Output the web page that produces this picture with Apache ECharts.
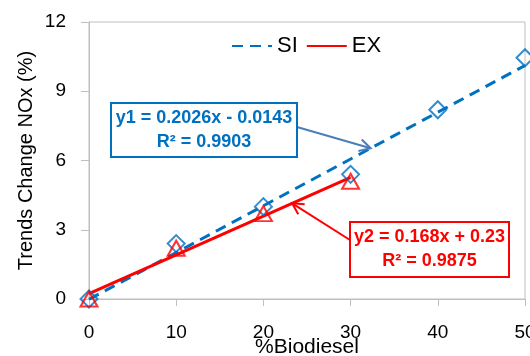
<!DOCTYPE html>
<html>
<head>
<meta charset="utf-8">
<script src="https://cdn.jsdelivr.net/npm/echarts@6/dist/echarts.min.js"></script>
<style>
  html, body { margin: 0; padding: 0; background: #fff; }
  #chart { width: 530px; height: 356px; }
</style>
</head>
<body>
<div id="chart"></div>
<script>
// Measured NOx change vs biodiesel share
const siBlend = [0, 10, 20, 30, 40, 50];
const siNox = [0, 2.4, 4.0, 5.4, 8.2, 10.45];
const exBlend = [0, 10, 20, 30];
const exNox = [0, 2.2, 3.7, 5.1];

// Linear fits: [slope, intercept], and their x range
const siFit = [0.2026, -0.0143];
const siFitRange = [0, 50];
const exFit = [0.168, 0.23];
const exFitRange = [0, 30];

const siLabel = ['y1 = 0.2026x - 0.0143', 'R² = 0.9903'];
const exLabel = ['y2 = 0.168x + 0.23', 'R² = 0.9875'];

const xTicks = [0, 10, 20, 30, 40, 50];
const yTicks = [0, 3, 6, 9, 12];

const BLUE = '#0070C0';
const RED = '#FF0000';
const FONT = '"Liberation Sans", Arial, sans-serif';

const pairs = (xs, ys) => xs.map((x, i) => [x, ys[i]]);
const fitLine = (fit, range) => range.map(x => [x, fit[0] * x + fit[1]]);

const chart = echarts.init(document.getElementById('chart'));

chart.setOption({
  animation: false,
  textStyle: { fontFamily: FONT },
  grid: {
    left: 89, right: 5, top: 22, bottom: 57,
    outerBoundsMode: 'none', containLabel: false,
    show: true, borderColor: '#BFBFBF', borderWidth: 1
  },
  legend: {
    data: ['SI', 'EX'],
    left: 226, top: 30,
    itemWidth: 40, itemHeight: 14, itemGap: 8,
    itemStyle: { opacity: 0 },
    textStyle: { fontSize: 22, color: '#000', fontFamily: FONT }
  },
  xAxis: {
    type: 'value',
    min: xTicks[0], max: xTicks[xTicks.length - 1], interval: 10,
    name: '%Biodiesel', nameLocation: 'middle', nameGap: 38, nameMoveOverlap: false,
    nameTextStyle: { fontSize: 21, color: '#000' },
    axisLine: { lineStyle: { color: '#BFBFBF', width: 1 } },
    axisTick: { show: true, length: 7, lineStyle: { color: '#BFBFBF' } },
    axisLabel: { fontSize: 19, color: '#000', margin: 24 },
    splitLine: { show: false }
  },
  yAxis: {
    type: 'value',
    min: yTicks[0], max: yTicks[yTicks.length - 1], interval: 3,
    name: 'Trends Change NOx (%)', nameLocation: 'middle', nameGap: 53, nameMoveOverlap: false,
    nameTextStyle: { fontSize: 20, color: '#000' },
    axisLine: { show: true, lineStyle: { color: '#BFBFBF', width: 1 } },
    axisTick: { show: true, length: 8, lineStyle: { color: '#BFBFBF' } },
    axisLabel: { fontSize: 19, color: '#000', margin: 23 },
    splitLine: { show: false }
  },
  series: [
    {
      name: 'SI', type: 'line', data: fitLine(siFit, siFitRange),
      symbol: 'none', z: 2,
      lineStyle: { color: BLUE, width: 3, type: [11, 7] },
      itemStyle: { color: BLUE }
    },
    {
      name: 'EX', type: 'line', data: fitLine(exFit, exFitRange),
      symbol: 'none', z: 3,
      lineStyle: { color: RED, width: 3, type: 'solid' },
      itemStyle: { color: RED }
    },
    {
      name: 'SI data', type: 'scatter', data: pairs(siBlend, siNox),
      symbol: 'diamond', symbolSize: [17, 17], z: 4,
      itemStyle: { color: 'rgba(255,255,255,0)', borderColor: BLUE, borderWidth: 2 }
    },
    {
      name: 'EX data', type: 'scatter', data: pairs(exBlend, exNox),
      symbol: 'triangle', symbolSize: [17, 15], z: 5,
      itemStyle: { color: 'rgba(255,255,255,0)', borderColor: RED, borderWidth: 2 }
    }
  ]
});

// Callout boxes with arrows pointing at each fit line
function arrow(from, to, color) {
  const dx = to[0] - from[0], dy = to[1] - from[1];
  const len = Math.hypot(dx, dy), ux = dx / len, uy = dy / len;
  const h = 11, w = 6;
  const p1 = [to[0] - ux * h - uy * w, to[1] - uy * h + ux * w];
  const p2 = [to[0] - ux * h + uy * w, to[1] - uy * h - ux * w];
  return [
    { type: 'line', shape: { x1: from[0], y1: from[1], x2: to[0], y2: to[1] },
      style: { stroke: color, lineWidth: 2 }, z: 10 },
    { type: 'polyline', shape: { points: [p1, to, p2] },
      style: { stroke: color, lineWidth: 2, fill: null }, z: 10 }
  ];
}

function callout(box, lines, color) {
  return [
    { type: 'rect', shape: { x: box[0], y: box[1], width: box[2], height: box[3] },
      style: { fill: '#fff', stroke: color, lineWidth: 2 }, z: 11 },
    { type: 'text', x: box[0] + box[2] / 2, y: box[1] + box[3] / 2, z: 12,
      style: { text: lines.join('\n'), fill: color, font: 'bold 18px ' + FONT,
               align: 'center', verticalAlign: 'middle', lineHeight: 24 } }
  ];
}

const siTipX = 32.3, exTipX = 23.3;
const siTip = chart.convertToPixel({ gridIndex: 0 }, [siTipX, siFit[0] * siTipX + siFit[1]]);
const exTip = chart.convertToPixel({ gridIndex: 0 }, [exTipX, exFit[0] * exTipX + exFit[1]]);

chart.setOption({
  graphic: [
    ...arrow([297, 127], siTip, '#4A7EBB'),
    ...callout([111, 103, 186, 54], siLabel, BLUE),
    ...arrow([350, 240], exTip, RED),
    ...callout([350, 222, 159, 55], exLabel, RED)
  ]
});
</script>
</body>
</html>
